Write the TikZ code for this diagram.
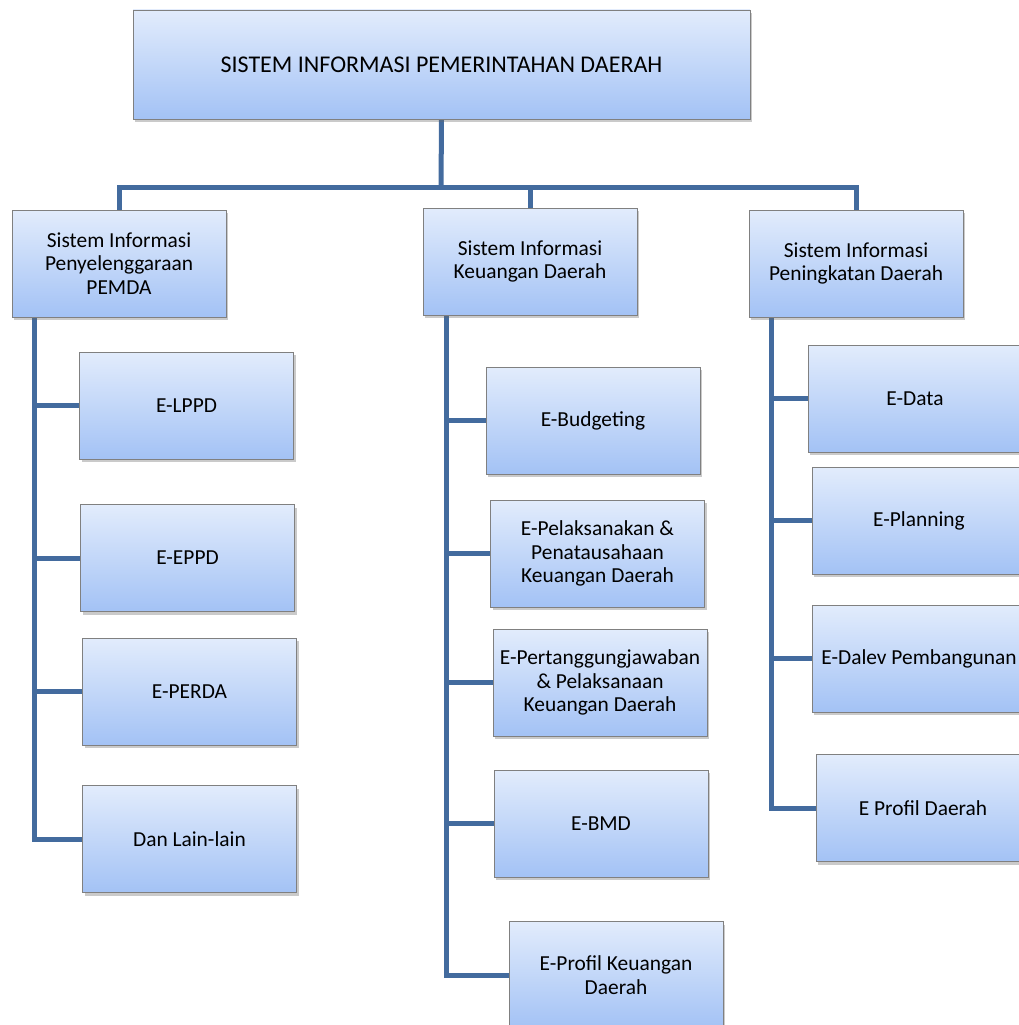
\documentclass[tikz,border=0pt]{standalone}
\usepackage{fontspec}
\setmainfont{Carlito}
\usetikzlibrary{shadows,backgrounds}
\definecolor{boxtop}{RGB}{226,236,252}
\definecolor{boxbot}{RGB}{163,194,245}
\definecolor{conn}{RGB}{67,107,158}
\definecolor{boxedge}{RGB}{128,128,128}
\tikzset{
  box/.style={rectangle, draw=boxedge, line width=0.8pt, top color=boxtop, bottom color=boxbot,
    minimum width=214pt, minimum height=107pt, inner sep=2pt, align=center,
    font=\fontsize{21.4}{23.3}\selectfont, text=black,
    drop shadow={shadow xshift=2pt, shadow yshift=-3pt, opacity=0.35, fill=black!60}},
  link/.style={draw=conn, line width=5pt}
}
\begin{document}
\begin{tikzpicture}[x=1pt,y=-1pt]
\useasboundingbox (0,0) rectangle (1018,1025);
% top
\node[box, minimum width=617pt, minimum height=109pt, font=\fontsize{24}{28}\selectfont] (top) at (441.5,64.5) {SISTEM INFORMASI PEMERINTAHAN DAERAH};
% level 1
\node[box] (sa) at (119,263.5) {Sistem Informasi\\Penyelenggaraan\\PEMDA};
\node[box] (sb) at (530,261.5) {Sistem Informasi\\Keuangan Daerah};
\node[box] (sc) at (856,263.5) {Sistem Informasi\\Peningkatan Daerah};
% left children
\node[box] (a1) at (186.5,405.5) {E-LPPD};
\node[box] (a2) at (187.5,558) {E-EPPD};
\node[box] (a3) at (189.5,691.5) {E-PERDA};
\node[box] (a4) at (189.5,839) {Dan Lain-lain};
% middle children
\node[box] (b1) at (593,420.5) {E-Budgeting};
\node[box] (b2) at (597.5,553.5) {E-Pelaksanakan \&\\Penatausahaan\\Keuangan Daerah};
\node[box] (b3) at (600,682.5) {E-Pertanggungjawaban\\\& Pelaksanaan\\Keuangan Daerah};
\node[box] (b4) at (601,823.5) {E-BMD};
\node[box] (b5) at (616,975) {E-Profil Keuangan\\Daerah};
% right children
\node[box] (c1) at (915,398.5) {E-Data};
\node[box] (c2) at (919,520.5) {E-Planning};
\node[box] (c3) at (919,658.5) {E-Dalev Pembangunan};
\node[box] (c4) at (923,808) {E Profil Daerah};
% connector coordinates
\coordinate (bus) at (441,187);
\coordinate (ls) at (34,839);
\coordinate (ms) at (446,975);
\coordinate (rs) at (771,808);
\begin{scope}[on background layer]
\draw[link] (top.south) -- (bus);
\draw[link] (sa.north) -- (sa.north |- bus) -- (sc.north |- bus) -- (sc.north);
\draw[link] (sb.north |- bus) -- (sb.north);
% left spine
\draw[link] (sa.south -| ls) -- (ls) -- (a4.west);
\foreach \n in {a1,a2,a3} \draw[link] (\n.west) -- (\n.west -| ls);
% middle spine
\draw[link] (sb.south -| ms) -- (ms) -- (b5.west);
\foreach \n in {b1,b2,b3,b4} \draw[link] (\n.west) -- (\n.west -| ms);
% right spine
\draw[link] (sc.south -| rs) -- (rs) -- (c4.west);
\foreach \n in {c1,c2,c3} \draw[link] (\n.west) -- (\n.west -| rs);
\end{scope}
\end{tikzpicture}
\end{document}
